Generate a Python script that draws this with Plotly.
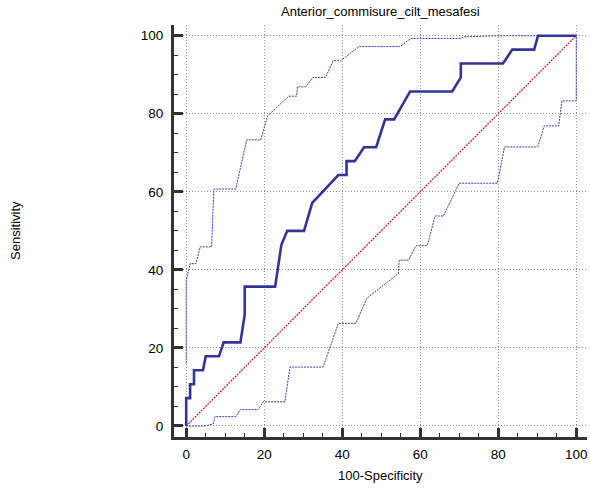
import plotly.graph_objects as go

# ROC curve (100-Specificity, Sensitivity)
roc_x = [0, 0, 1.0, 1.0, 2.0, 2.0, 4.3, 5.0, 8.4, 9.6, 13.9, 15.0, 15.0, 22.8, 24.4, 25.9,
         30.2, 32.3, 39.0, 41.1, 41.1, 43.2, 45.6, 48.7, 51.0, 53.3, 57.4, 68.2, 70.4,
         70.4, 81.2, 83.6, 89.2, 90.2, 100]
roc_y = [0, 7.14, 7.14, 10.71, 10.71, 14.29, 14.29, 17.86, 17.86, 21.43, 21.43, 28.57, 35.71,
         35.71, 46.43, 50.0, 50.0, 57.14, 64.29, 64.29, 67.86, 67.86, 71.43, 71.43, 78.57,
         78.57, 85.71, 85.71, 89.29, 92.86, 92.86, 96.43, 96.43, 100, 100]

# Upper 95% confidence bound
upper_x = [0, 0, 1.0, 2.5, 3.6, 6.5, 7.1, 12.7, 15.5, 19.1, 20.9, 26.3, 28.3, 28.5, 30.6,
           32.5, 35.7, 37.7, 39.6, 44.3, 54.8, 57.6, 70.4, 71.1, 80.0, 100]
upper_y = [16, 37.3, 41.6, 41.6, 45.9, 45.9, 60.7, 60.7, 73.3, 73.3, 79.5, 84.5, 84.5, 86.9,
           86.9, 89.3, 89.3, 93.6, 93.6, 97.2, 97.2, 99.3, 99.3, 99.7, 100, 100]

# Lower 95% confidence bound
lower_x = [0, 4.8, 6.9, 7.4, 12.7, 13.9, 18.5, 19.7, 25.3, 26.6, 35.1, 39.0, 43.5, 46.3,
           54.4, 54.6, 57.0, 58.9, 61.8, 63.8, 65.9, 70.0, 79.8, 80.5, 81.6, 90.1, 91.8,
           95.5, 96.3, 100, 100]
lower_y = [0, 0, 0.5, 2.4, 2.4, 4.2, 4.2, 6.2, 6.2, 15.1, 15.1, 26.3, 26.3, 32.7, 39.1,
           42.5, 42.5, 46.2, 46.2, 53.8, 53.8, 62.2, 62.2, 65.5, 71.5, 71.5, 76.9, 76.9,
           83.3, 83.3, 100]

diag_x = [0, 100]
diag_y = [0, 100]

title_text = "Anterior_commisure_cilt_mesafesi"
x_title = "100-Specificity"
y_title = "Sensitivity"
tick_vals = [0, 20, 40, 60, 80, 100]

FONT = "Liberation Sans, Arial, sans-serif"

fig = go.Figure()
fig.add_trace(go.Scatter(x=diag_x, y=diag_y, mode="lines",
                         line=dict(color="#c02020", width=1.2, dash="2px,1px"),
                         hoverinfo="skip", showlegend=False))
fig.add_trace(go.Scatter(x=upper_x, y=upper_y, mode="lines",
                         line=dict(color="#3c3cb4", width=1, dash="2px,1px"),
                         showlegend=False))
fig.add_trace(go.Scatter(x=lower_x, y=lower_y, mode="lines",
                         line=dict(color="#3c3cb4", width=1, dash="2px,1px"),
                         showlegend=False))
fig.add_trace(go.Scatter(x=roc_x, y=roc_y, mode="lines",
                         line=dict(color="#333399", width=2.6),
                         showlegend=False))

axis_common = dict(
    tickvals=tick_vals,
    ticks="inside", ticklen=9, tickwidth=3, tickcolor="#333333",
    showline=True, linecolor="#333333", linewidth=3,
    showgrid=True, gridcolor="#909090", gridwidth=1, griddash="1px,2px",
    zeroline=False,
    tickfont=dict(family=FONT, size=13.5, color="#000000"),
    minor=dict(dtick=5, ticks="inside", ticklen=4, tickwidth=1,
               tickcolor="#333333", showgrid=False),
)

fig.update_xaxes(range=[-3.13, 102.75], ticklabelstandoff=3, **axis_common)
fig.update_yaxes(range=[-2.82, 102.74], ticklabelstandoff=5, **axis_common)

fig.update_layout(
    width=590, height=490,
    margin=dict(l=174, r=3, t=25, b=53),
    paper_bgcolor="white", plot_bgcolor="white",
    font=dict(family=FONT, size=12, color="#000000"),
    annotations=[
        dict(text=title_text, x=0.5, y=1, xref="paper", yref="paper",
             yshift=14, showarrow=False, font=dict(size=13),
             xanchor="center", yanchor="middle"),
        dict(text=x_title, x=0.5, y=0, xref="paper", yref="paper",
             yshift=-38, showarrow=False, font=dict(size=13),
             xanchor="center", yanchor="middle"),
        dict(text=y_title, x=0, y=0.5, xref="paper", yref="paper",
             xshift=-159, showarrow=False, font=dict(size=13), textangle=-90,
             xanchor="center", yanchor="middle"),
    ],
)

fig.write_html("out.html")
